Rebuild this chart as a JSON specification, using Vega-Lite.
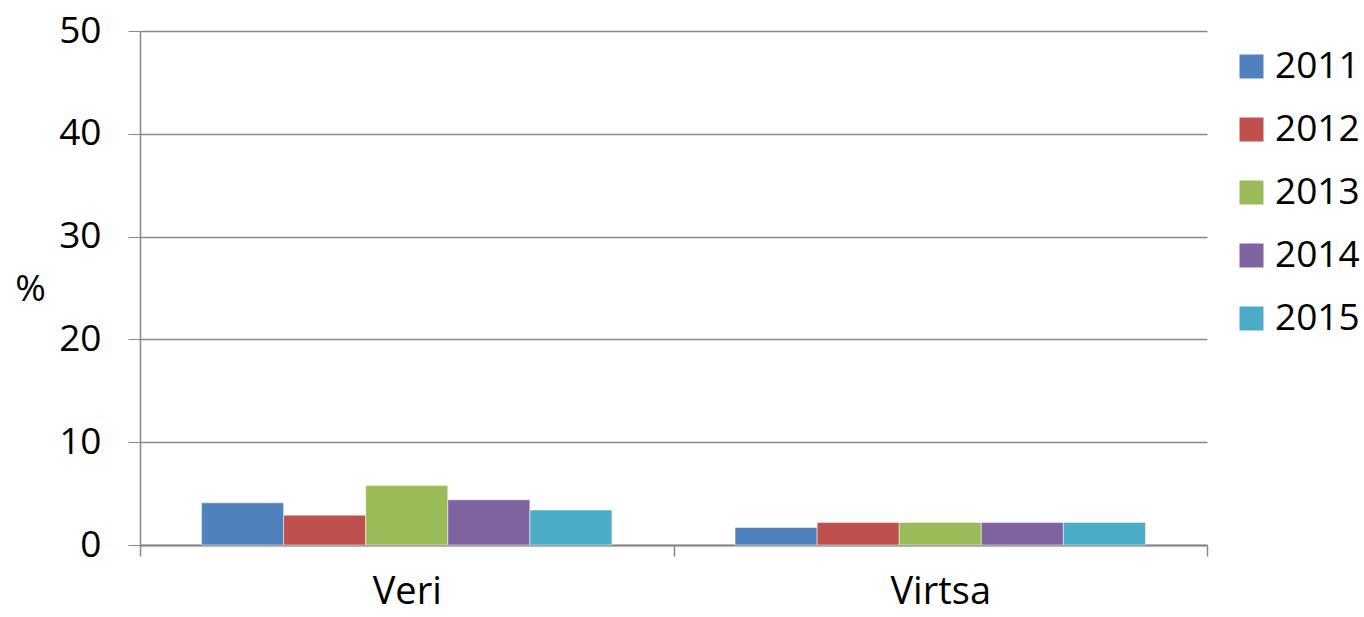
{
  "$schema": "https://vega.github.io/schema/vega-lite/v6.json",
  "width": 1067,
  "height": 514,
  "autosize": {"type": "none"},
  "padding": {"left": 140, "top": 31, "right": 157, "bottom": 72},
  "background": "white",
  "data": {"values": [
    {"cat": "Veri", "year": "2011", "value": 4.1},
    {"cat": "Veri", "year": "2012", "value": 2.9},
    {"cat": "Veri", "year": "2013", "value": 5.8},
    {"cat": "Veri", "year": "2014", "value": 4.4},
    {"cat": "Veri", "year": "2015", "value": 3.4},
    {"cat": "Virtsa", "year": "2011", "value": 1.7},
    {"cat": "Virtsa", "year": "2012", "value": 2.2},
    {"cat": "Virtsa", "year": "2013", "value": 2.2},
    {"cat": "Virtsa", "year": "2014", "value": 2.2},
    {"cat": "Virtsa", "year": "2015", "value": 2.2}
  ]},
  "mark": {"type": "bar", "stroke": "white", "strokeWidth": 0.5},
  "encoding": {
    "x": {
      "field": "cat", "type": "nominal",
      "scale": {"paddingInner": 0, "paddingOuter": 0},
      "axis": {
        "title": null, "labelAngle": 0, "labelFont": "Open Sans", "labelFontSize": 38,
        "labelColor": "black", "labelPadding": 17, "tickBand": "extent", "tickSize": 11,
        "tickColor": "#888888", "domainColor": "#888888", "domainWidth": 2, "tickWidth": 1.5
      }
    },
    "xOffset": {"field": "year", "type": "nominal", "scale": {"paddingInner": 0, "paddingOuter": 0.75}},
    "y": {
      "field": "value", "type": "quantitative",
      "scale": {"domain": [0, 50]},
      "axis": {
        "title": "%", "titleAngle": 0, "titleFont": "Open Sans", "titleFontSize": 37, "titleFontWeight": "normal",
        "titleX": -110, "titleY": 258, "titleAlign": "center", "titleBaseline": "middle",
        "values": [0, 10, 20, 30, 40, 50],
        "labelFont": "Open Sans", "labelFontSize": 37, "labelColor": "black", "labelPadding": 27,
        "tickSize": 12, "tickColor": "#888888", "domainColor": "#888888", "domainWidth": 1.5,
        "gridColor": "#888888", "gridWidth": 1.5
      }
    },
    "color": {
      "field": "year", "type": "nominal",
      "scale": {"domain": ["2011", "2012", "2013", "2014", "2015"], "range": ["#4f81bd", "#c0504d", "#9bbb59", "#8064a2", "#4bacc6"]},
      "legend": {
        "title": null, "orient": "none", "legendX": 1093, "legendY": 17,
        "symbolType": "square", "symbolSize": 576, "symbolStrokeWidth": 0,
        "labelFont": "Open Sans", "labelFontSize": 37, "labelColor": "black",
        "rowPadding": 25, "labelOffset": 5
      }
    }
  },
  "config": {"view": {"stroke": null}}
}
